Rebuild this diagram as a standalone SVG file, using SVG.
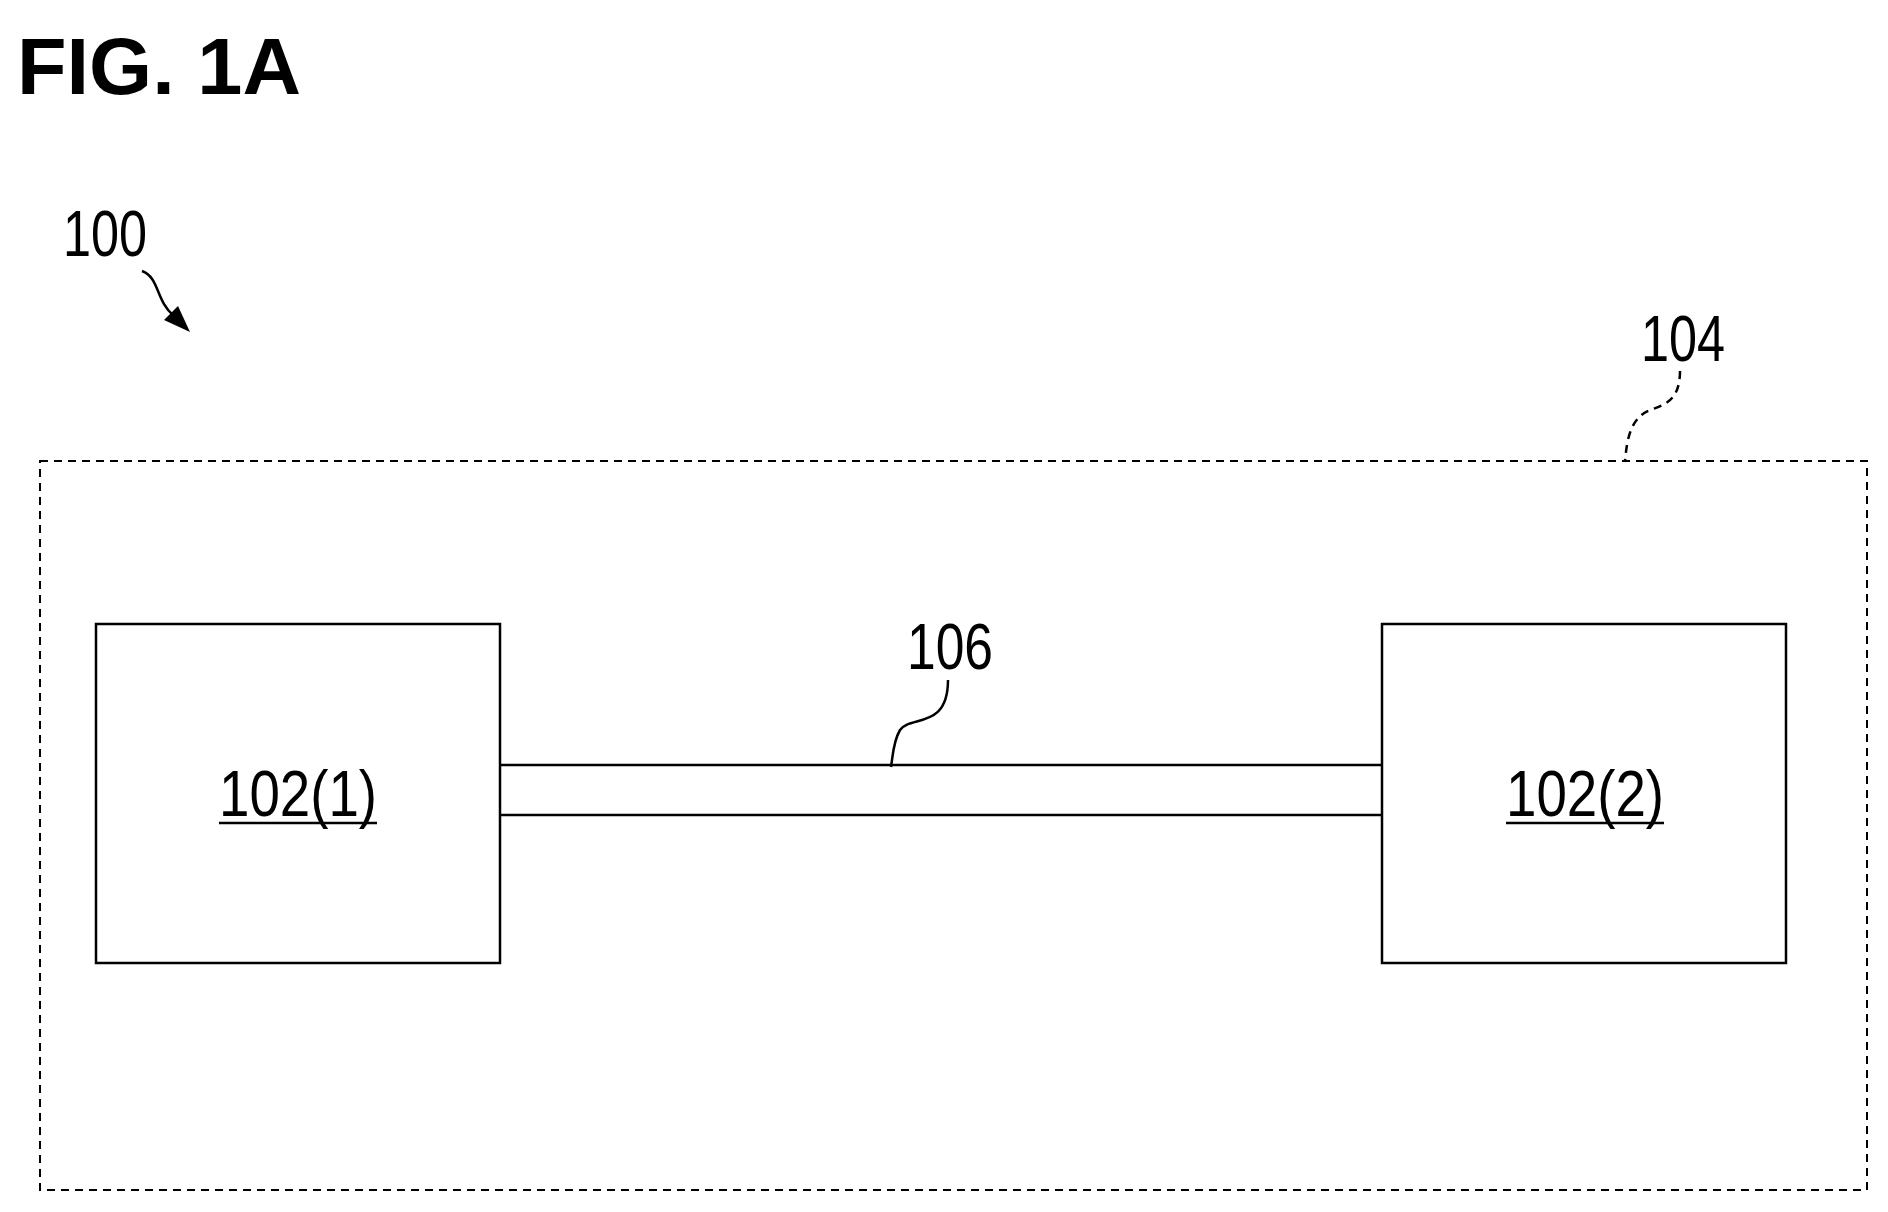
<svg xmlns="http://www.w3.org/2000/svg" width="1888" height="1212" viewBox="0 0 1888 1212">
<style>
text{font-family:"Liberation Sans",Arial,sans-serif;fill:#000}
.l{font-size:64px}
.b{fill:#fff;stroke:#000;stroke-width:2.5}
.c{fill:none;stroke:#000;stroke-width:2.5}
</style>
<text x="17" y="94" font-size="80" font-weight="bold" textLength="284" lengthAdjust="spacingAndGlyphs">FIG. 1A</text>
<g id="n100"><text class="l" x="63" y="256" textLength="84" lengthAdjust="spacingAndGlyphs">100</text></g>
<g id="n104">
<rect x="40" y="461" width="1827" height="729" fill="none" stroke="#000" stroke-width="2" stroke-dasharray="8,6"/>
<text class="l" x="1641" y="361" textLength="84" lengthAdjust="spacingAndGlyphs">104</text></g>
<g id="n1021"><rect class="b" x="96" y="624" width="404" height="339"/>
<text class="l" x="219" y="816" textLength="158" lengthAdjust="spacingAndGlyphs">102(1)</text>
<line class="c" x1="219" y1="823" x2="377" y2="823"/></g>
<g id="n1022"><rect class="b" x="1382" y="624" width="404" height="339"/>
<text class="l" x="1506" y="816" textLength="158" lengthAdjust="spacingAndGlyphs">102(2)</text>
<line class="c" x1="1506" y1="823" x2="1664" y2="823"/></g>
<g id="n106"><text class="l" x="907" y="669" textLength="86" lengthAdjust="spacingAndGlyphs">106</text></g>
<g id="connectors">
<line class="c" x1="500" y1="765" x2="1382" y2="765"/>
<line class="c" x1="500" y1="815" x2="1382" y2="815"/>
<path class="c" d="M948,680 C948,730 910,715 900,730 C893,742 893,755 891,767"/>
<path class="c" d="M1680,371 C1680,400 1665,405 1650,410 C1630,418 1627,440 1625,461" stroke-dasharray="8,6"/>
<path class="c" d="M142,271 C160,278 155,300 174,316"/>
<polygon points="190,332 178,306 164,320"/>
</g>
</svg>
